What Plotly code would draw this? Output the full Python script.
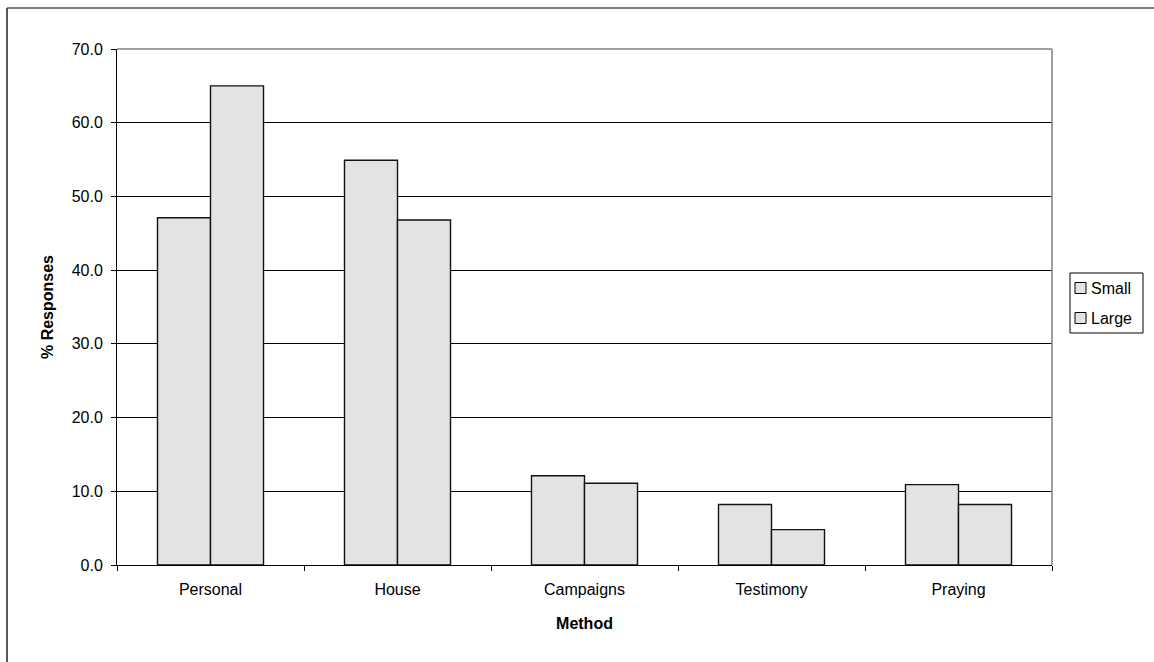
import plotly.graph_objects as go

categories = ["Personal", "House", "Campaigns", "Testimony", "Praying"]
small_vals = [47.1, 54.9, 12.1, 8.2, 10.9]
large_vals = [65.0, 46.8, 11.1, 4.8, 8.2]
series_names = ["Small", "Large"]

W, H = 1154, 662
L, R, T, B = 117, 102, 49, 97
pw, ph = W - L - R, H - T - B

FONT = "Arial, Liberation Sans, sans-serif"
FS = 16
BAR_FILL = "#e3e3e3"

fig = go.Figure()
for name, vals in zip(series_names, [small_vals, large_vals]):
    fig.add_trace(go.Bar(
        name=name, x=categories, y=vals, showlegend=False,
        marker=dict(color=BAR_FILL, line=dict(color="#111111", width=1.4)),
    ))

def px_x(p):
    return (p - L) / pw

def px_y(p):
    return (H - B - p) / ph

shapes = [
    dict(type="line", xref="paper", yref="paper", x0=0, x1=1, y0=1, y1=1,
         line=dict(color="#808080", width=1.5), layer="above"),
    dict(type="line", xref="paper", yref="paper", x0=1, x1=1, y0=0, y1=1,
         line=dict(color="#808080", width=1.5), layer="above"),
    dict(type="line", xref="paper", yref="paper", x0=px_x(7), x1=px_x(W + 5),
         y0=px_y(8), y1=px_y(8), line=dict(color="#808080", width=2)),
    dict(type="line", xref="paper", yref="paper", x0=px_x(7), x1=px_x(7),
         y0=px_y(8), y1=px_y(H + 5), line=dict(color="#222222", width=1.5)),
    # legend box
    dict(type="rect", xref="paper", yref="paper", x0=px_x(1070), x1=px_x(1143),
         y0=px_y(273), y1=px_y(333), line=dict(color="black", width=1),
         fillcolor="white"),
]

annotations = []
legend_rows = [288, 318]
for name, yc in zip(series_names, legend_rows):
    shapes.append(dict(type="rect", xref="paper", yref="paper",
                       x0=px_x(1075), x1=px_x(1086), y0=px_y(yc - 5.5), y1=px_y(yc + 5.5),
                       line=dict(color="black", width=1), fillcolor=BAR_FILL))
    annotations.append(dict(xref="paper", yref="paper", x=px_x(1089), y=px_y(yc),
                            xanchor="left", yanchor="middle", showarrow=False,
                            text=name, font=dict(family=FONT, size=FS, color="black")))

fig.update_layout(
    width=W, height=H,
    margin=dict(l=L, r=R, t=T, b=B, autoexpand=False),
    paper_bgcolor="white", plot_bgcolor="white",
    font=dict(family=FONT, size=FS, color="black"),
    barmode="group", bargap=0.433, bargroupgap=0,
    showlegend=False,
    xaxis=dict(
        showline=True, linecolor="black", linewidth=1,
        ticks="outside", ticklen=5, tickcolor="black", tickson="boundaries",
        showgrid=False, ticklabelstandoff=10,
        tickfont=dict(family=FONT, size=FS, color="black"),
        title=dict(text="<b>Method</b>", font=dict(family=FONT, size=FS, color="black"),
                   standoff=20),
    ),
    yaxis=dict(
        range=[0, 70], dtick=10, tickformat=".1f",
        showline=True, linecolor="black", linewidth=1,
        ticks="outside", ticklen=5, tickcolor="black",
        showgrid=True, gridcolor="black", gridwidth=1,
        zeroline=False, ticklabelstandoff=5,
        tickfont=dict(family=FONT, size=FS, color="black"),
        title=dict(text="<b>% Responses</b>", font=dict(family=FONT, size=FS, color="black"),
                   standoff=14),
    ),
    shapes=shapes,
    annotations=annotations,
)

fig.write_html("out.html", config={"displayModeBar": False},
               post_script="document.body.style.margin='0';document.body.style.overflow='hidden';")
